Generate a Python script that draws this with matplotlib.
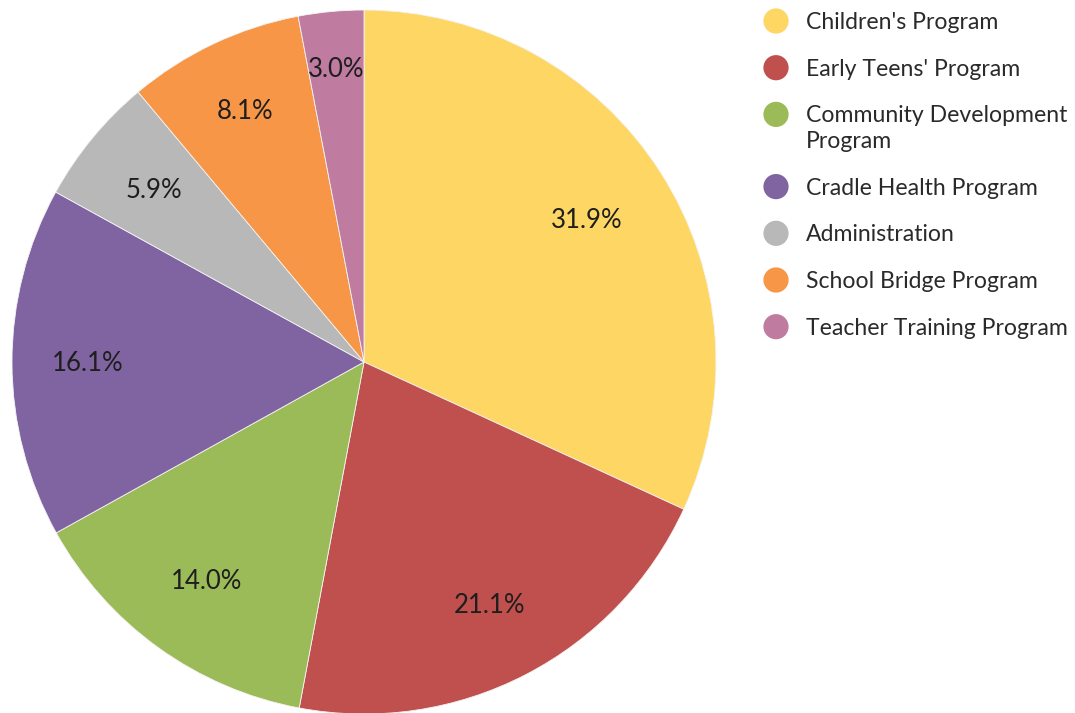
import matplotlib
matplotlib.use("Agg")
import matplotlib.pyplot as plt
import numpy as np

categories = ["Children's Program", "Early Teens' Program", "Community Development Program",
              "Cradle Health Program", "Administration", "School Bridge Program",
              "Teacher Training Program"]
values = [31.9, 21.1, 14.0, 16.1, 5.9, 8.1, 3.0]
colors = ["#FDD664", "#C0504D", "#9BBB59", "#8064A2", "#B8B8B8", "#F79646", "#C07BA1"]
legend_labels = ["Children's Program", "Early Teens' Program", "Community Development\nProgram",
                 "Cradle Health Program", "Administration", "School Bridge Program",
                 "Teacher Training Program"]
# radial position of each slice label (fraction of radius) - style only
label_dist = [0.752, 0.774, 0.763, 0.784, 0.773, 0.791, 0.84]

plt.rcParams['font.family'] = ['Lato', 'DejaVu Sans']

W, H = 1075, 713
fig = plt.figure(figsize=(W / 100, H / 100), dpi=100)

cx, cy, r = 364, 362, 352
ax = fig.add_axes([(cx - r) / W, (H - cy - r) / H, 2 * r / W, 2 * r / H])
wedges, _ = ax.pie(values, colors=colors, startangle=90, counterclock=False,
                   radius=1, wedgeprops=dict(edgecolor="#f4f4f4", linewidth=0.6))
ax.set_xlim(-1, 1)
ax.set_ylim(-1, 1)
ax.set_aspect('equal')
ax.axis('off')

for w, v, d in zip(wedges, values, label_dist):
    ang = np.deg2rad((w.theta1 + w.theta2) / 2)
    ax.text(d * np.cos(ang), d * np.sin(ang) - 0.004, f"{v:.1f}%", ha='center', va='center',
            fontsize=18.5, color='#1e1e1e')

lax = fig.add_axes([0, 0, 1, 1])
lax.set_xlim(0, W)
lax.set_ylim(H, 0)
lax.axis('off')
y = 21
step = 46.7
line_h = 25.5
for lab, c in zip(legend_labels, colors):
    lax.scatter([776], [y], s=330, color=c, edgecolors='none')
    lines = lab.split("\n")
    for i, ln in enumerate(lines):
        lax.text(806, y + i * line_h + 1.5, ln, ha='left', va='center', fontsize=16.6, color='#2a2a2a')
    y += step + (len(lines) - 1) * line_h

fig.savefig("out.png", dpi=100)
